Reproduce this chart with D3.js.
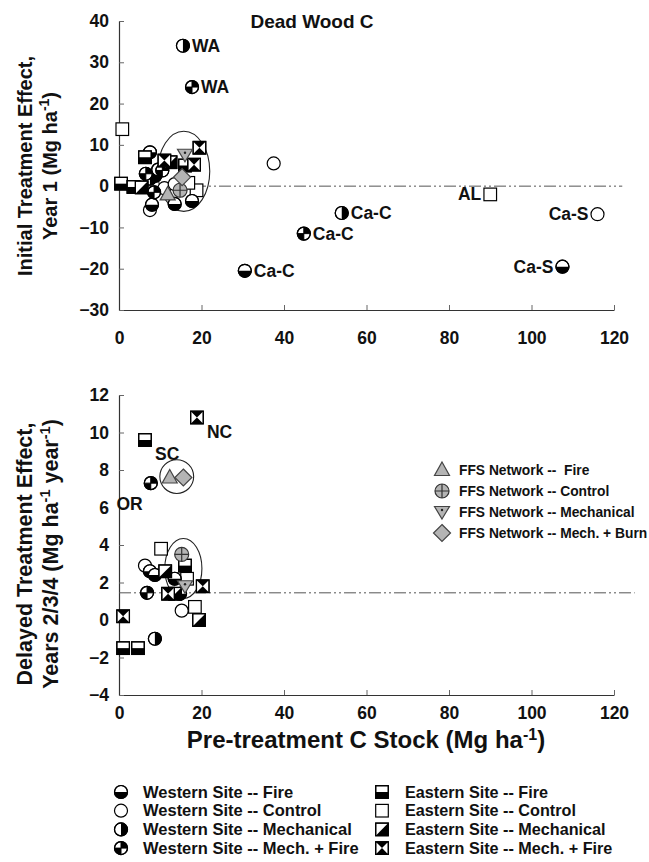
<!DOCTYPE html>
<html><head><meta charset="utf-8">
<script src="https://cdn.jsdelivr.net/npm/d3@7"></script>
<style>
body{margin:0;background:#fff}
text{font-family:"Liberation Sans",Arial,sans-serif;font-weight:bold;fill:#111}
</style>
</head><body>
<svg id="c" width="649" height="862"></svg>
<script>
// ---------- data ----------
const xTicks = [0, 20, 40, 60, 80, 100, 120];
const yTicksTop = [-30, -20, -10, 0, 10, 20, 30, 40];
const yTicksBot = [-4, -2, 0, 2, 4, 6, 8, 10, 12];

// Top panel: [pre-treatment C stock, initial effect]
const topWFire = [[7.5,8.2],[8.8,2.5],[8,-4.5],[13.5,-4.3],[17.7,-3.6],[30.5,-20.5],[107.5,-19.5]];
const topWControl = [[37.5,5.5],[11,-0.5],[7.5,-5.8],[116,-6.8],[13.5,0.5]];
const topWMech = [[15.5,34],[54,-6.5],[7.5,1.8],[9.5,4]];
const topWMechFire = [[17.7,24],[44.8,-11.5],[6.5,3],[10.5,3.8],[8.5,-1.5]];
const topEFire = [[0.5,0.6],[6.3,7],[3.5,-0.2],[16,5]];
const topEControl = [[0.8,13.8],[90,-2],[18.8,-1],[16.8,0.8]];
const topEMech = [[12.5,5.8],[5.5,-0.3]];
const topEMechFire = [[19.5,9.3],[18.2,5.2],[11,6.2]];
const topFFSFire = [[11.8,-2]];
const topFFSControl = [[14.8,-1]];
const topFFSMech = [[16,7.6]];
const topFFSMB = [[15.3,2.2]];

// Bottom panel: [pre-treatment C stock, delayed effect]
const botWFire = [[7.5,2.6],[8.7,2.4],[13.5,2.2],[14.8,1.4]];
const botWControl = [[6.3,2.9],[15.2,0.5]];
const botWMech = [[8.7,-1]];
const botWMechFire = [[7.7,7.3],[6.8,1.45]];
const botEFire = [[6.3,9.6],[16,2.9],[1,-1.5],[4.6,-1.5]];
const botEControl = [[10.2,3.8],[16.5,2.2],[18.4,0.7]];
const botEMech = [[11.2,2.6],[13.6,1.4],[19.4,0]];
const botEMechFire = [[18.9,10.8],[20.3,1.8],[11.9,1.4],[1,0.2]];
const botFFSFire = [[12.3,7.6]];
const botFFSControl = [[15.2,3.5]];
const botFFSMech = [[16,1.8]];
const botFFSMB = [[15.6,7.6]];

const topRef = 0, botRef = 1.45;
const topLabels = [
  {t:"WA", x:15.5, y:34, side:"r"}, {t:"WA", x:17.7, y:24, side:"r"},
  {t:"Ca-C", x:54, y:-6.5, side:"r"}, {t:"Ca-C", x:44.8, y:-11.5, side:"r"},
  {t:"Ca-C", x:30.5, y:-20.5, side:"r"}, {t:"AL", x:90, y:-2, side:"l"},
  {t:"Ca-S", x:116, y:-6.8, side:"l"}, {t:"Ca-S", x:107.5, y:-19.5, side:"l"}
];
const botLabels = [
  {t:"NC", x:18.9, y:10.8, side:"rb"}, {t:"SC", x:6.3, y:9.6, side:"rb"},
  {t:"OR", x:7.7, y:7.3, side:"lb"}
];
// ellipses: center x, center y, x radius, y radius (data units)
const topEllipses = [[15.7,3.6,6.3,9.7]];
const botEllipses = [[15.6,2.75,4.5,1.6],[14,7.65,4.1,0.9]];

const legendW = ["Western Site -- Fire","Western Site -- Control","Western Site -- Mechanical","Western Site -- Mech. + Fire"];
const legendE = ["Eastern Site -- Fire","Eastern Site -- Control","Eastern Site -- Mechanical","Eastern Site -- Mech. + Fire"];
const legendF = ["FFS Network --  Fire","FFS Network -- Control","FFS Network -- Mechanical","FFS Network -- Mech. + Burn"];

// ---------- drawing ----------
const svg = d3.select("#c");
const GRAY = "#b4b4b4";

function sym(g, type, x, y) {
  const r = 6.5, h = 6.3;
  const G = g.append("g").attr("transform", `translate(${x},${y})`)
    .attr("stroke", "#000").attr("stroke-width", 1.2);
  const circ = f => G.append("circle").attr("r", r).attr("fill", f);
  const sq = f => G.append("rect").attr("x", -h).attr("y", -h).attr("width", 2*h).attr("height", 2*h).attr("fill", f);
  const p = (d, f) => G.append("path").attr("d", d).attr("fill", f).attr("stroke", "none");
  switch (type) {
    case "wFire": circ("#fff"); p(`M${-r},0A${r},${r} 0 0 0 ${r},0Z`, "#000"); circ("none"); break;
    case "wControl": circ("#fff"); break;
    case "wMech": circ("#fff"); p(`M0,${-r}A${r},${r} 0 0 1 0,${r}Z`, "#000"); circ("none"); break;
    case "wMechFire": circ("#fff"); p(`M0,0L0,${-r}A${r},${r} 0 0 1 ${r},0Z`, "#000"); p(`M0,0L0,${r}A${r},${r} 0 0 1 ${-r},0Z`, "#000");
      G.append("path").attr("d", `M${-r},0H${r}M0,${-r}V${r}`).attr("stroke-width",1); circ("none"); break;
    case "eFire": sq("#fff"); p(`M${-h},0H${h}V${h}H${-h}Z`, "#000"); sq("none"); break;
    case "eControl": sq("#fff"); break;
    case "eMech": sq("#fff"); p(`M${h},${-h}L${h},${h}L${-h},${h}Z`, "#000"); sq("none"); break;
    case "eMechFire": sq("#fff"); p(`M${-h},${-h}H${h}L0,0Z`, "#000"); p(`M${-h},${h}H${h}L0,0Z`, "#000"); sq("none"); break;
    case "ffsFire": G.append("path").attr("d", "M0,-8L7.5,5.5L-7.5,5.5Z").attr("fill", GRAY).attr("stroke", "#444"); break;
    case "ffsControl": G.append("circle").attr("r", 7).attr("fill", GRAY).attr("stroke", "#333");
      G.append("path").attr("d", "M-7,0H7M0,-7V7").attr("stroke", "#333"); break;
    case "ffsMech": G.append("path").attr("d", "M0,7L7.5,-5.5L-7.5,-5.5Z").attr("fill", GRAY).attr("stroke", "#444");
      G.append("circle").attr("r", 1.2).attr("cy", -2).attr("fill", "#222").attr("stroke","none"); break;
    case "ffsMB": G.append("path").attr("d", "M0,-8.5L8.5,0L0,8.5L-8.5,0Z").attr("fill", GRAY).attr("stroke", "#444"); break;
  }
}

function panel(o) {
  const x = d3.scaleLinear().domain([0, 120]).range([119, 614]);
  const y = d3.scaleLinear().domain(o.yDomain).range(o.yRange);
  const g = svg.append("g");
  const ax = g.append("g").attr("transform", `translate(0,${o.yRange[0]})`)
    .call(d3.axisBottom(x).tickValues(o.xTicks).tickSizeInner(-5).tickSizeOuter(0).tickPadding(o.xPad));
  const ay = g.append("g").attr("transform", `translate(119,0)`)
    .call(d3.axisLeft(y).tickValues(o.yTicks).tickSizeInner(-5).tickSizeOuter(0).tickPadding(10));
  [ax, ay].forEach(a => {
    a.select(".domain").attr("stroke", "#333").attr("stroke-width", 1.2);
    a.selectAll(".tick line").attr("stroke", "#666");
    a.selectAll("text").attr("font-size", 17.5).attr("font-family", '"Liberation Sans",Arial,sans-serif').attr("font-weight", "bold").attr("fill", "#111");
  });
  g.append("line").attr("x1", x(0)).attr("x2", x(o.refEnd)).attr("y1", y(o.ref)).attr("y2", y(o.ref))
    .attr("stroke", "#555").attr("stroke-width", 1).attr("stroke-dasharray", "12,3,2,3,2,3");
  o.ellipses.forEach(e => {
    g.append("ellipse").attr("cx", x(e[0])).attr("cy", y(e[1]))
      .attr("rx", x(e[0] + e[2]) - x(e[0])).attr("ry", y(e[1]) - y(e[1] + e[3]))
      .attr("fill", "none").attr("stroke", "#222").attr("stroke-width", 1.1);
  });
  o.series.forEach(([type, data]) => data.forEach(d => sym(g, type, x(d[0]), y(d[1]))));
  o.labels.forEach(l => {
    const px = x(l.x), py = y(l.y);
    let tx = px, ty = py, anc = "start";
    if (l.side === "r") { tx = px + 9; ty = py + 6; }
    if (l.side === "l") { tx = px - 9; ty = py + 6; anc = "end"; }
    if (l.side === "rb") { tx = px + 10; ty = py + 20; }
    if (l.side === "lb") { tx = px - 8; ty = py + 27; anc = "end"; }
    g.append("text").attr("x", tx).attr("y", ty).attr("text-anchor", anc).attr("font-size", 17.5).text(l.t);
  });
  return {x, y};
}

panel({
  yDomain: [-30, 40], yRange: [310, 21], yTicks: yTicksTop, xTicks: xTicks, xPad: 22,
  ref: topRef, refEnd: 122, ellipses: topEllipses, labels: topLabels,
  series: [["eControl", topEControl], ["wControl", topWControl], ["wFire", topWFire], ["eFire", topEFire],
           ["wMech", topWMech], ["wMechFire", topWMechFire], ["eMech", topEMech], ["eMechFire", topEMechFire],
           ["ffsFire", topFFSFire], ["ffsControl", topFFSControl], ["ffsMech", topFFSMech], ["ffsMB", topFFSMB]]
});
panel({
  yDomain: [-4, 12], yRange: [695, 395], yTicks: yTicksBot, xTicks: xTicks, xPad: 12,
  ref: botRef, refEnd: 125, ellipses: botEllipses, labels: botLabels,
  series: [["eControl", botEControl], ["wControl", botWControl], ["wFire", botWFire], ["eFire", botEFire],
           ["wMech", botWMech], ["wMechFire", botWMechFire], ["eMech", botEMech], ["eMechFire", botEMechFire],
           ["ffsFire", botFFSFire], ["ffsControl", botFFSControl], ["ffsMech", botFFSMech], ["ffsMB", botFFSMB]]
});

// title
svg.append("text").attr("x", 312).attr("y", 28).attr("text-anchor", "middle").attr("font-size", 19).text("Dead Wood C");

function sup(t, s, fs) {
  t.append("tspan").attr("dy", -8).attr("font-size", fs).text(s);
}
(function(){
  const t = svg.append("text").attr("transform", "translate(32,166) rotate(-90)").attr("text-anchor", "middle").attr("font-size", 20);
  t.text("Initial Treatment Effect,");
  const l2 = svg.append("text").attr("transform", "translate(57,166) rotate(-90)").attr("text-anchor", "middle").attr("font-size", 20);
  l2.append("tspan").text("Year 1 (Mg ha");
  sup(l2, "-1", 14);
  l2.append("tspan").attr("dy", 8).text(")");
})();
(function(){
  const t = svg.append("text").attr("transform", "translate(32,554) rotate(-90)").attr("text-anchor", "middle").attr("font-size", 21.5);
  t.text("Delayed Treatment Effect,");
  const l2 = svg.append("text").attr("transform", "translate(58,554) rotate(-90)").attr("text-anchor", "middle").attr("font-size", 21.5);
  l2.append("tspan").text("Years 2/3/4 (Mg ha");
  sup(l2, "-1", 14.5);
  l2.append("tspan").attr("dy", 8).text(" year");
  sup(l2, "-1", 14.5);
  l2.append("tspan").attr("dy", 8).text(")");
})();
(function(){
  const t = svg.append("text").attr("x", 366).attr("y", 748).attr("text-anchor", "middle").attr("font-size", 24);
  t.append("tspan").text("Pre-treatment C Stock (Mg ha");
  sup(t, "-1", 16);
  t.append("tspan").attr("dy", 8).text(")");
})();

// FFS legend
const ffsTypes = ["ffsFire", "ffsControl", "ffsMech", "ffsMB"];
legendF.forEach((s, i) => {
  const yy = 470 + i * 21;
  sym(svg, ffsTypes[i], 442, yy);
  svg.append("text").attr("x", 459).attr("y", yy + 5).attr("font-size", 13.8).style("white-space", "pre").text(s);
});
// bottom legend
const wTypes = ["wFire", "wControl", "wMech", "wMechFire"];
const eTypes = ["eFire", "eControl", "eMech", "eMechFire"];
legendW.forEach((s, i) => {
  const yy = 792 + i * 18.7;
  sym(svg, wTypes[i], 121, yy);
  svg.append("text").attr("x", 143).attr("y", yy + 5.5).attr("font-size", 16.5).text(s);
});
legendE.forEach((s, i) => {
  const yy = 792 + i * 18.7;
  sym(svg, eTypes[i], 382, yy);
  svg.append("text").attr("x", 405).attr("y", yy + 5.5).attr("font-size", 16.2).text(s);
});
</script>
</body></html>
